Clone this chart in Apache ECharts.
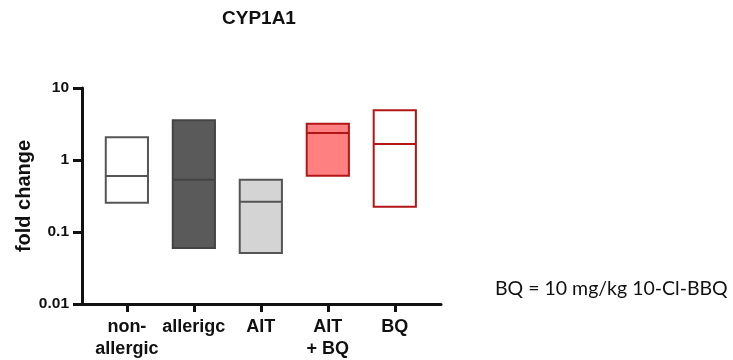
<!DOCTYPE html>
<html style="height: 100%">
<head>
    <meta charset="utf-8">
    <title>CYP1A1</title>
    <script type="text/javascript" src="https://cdn.jsdelivr.net/npm/echarts@6/dist/echarts.min.js"></script>
</head>
<body style="height: 100%; margin: 0; background: #fff">
    <div id="container" style="width: 733px; height: 360px"></div>
    <script type="text/javascript">
        // 分组名称（原图写作 allerigc）
        var groups = ['non-\nallergic', 'allerigc', 'AIT', 'AIT\n+ BQ', 'BQ'];
        // 每组的最小值、中位数、最大值 (fold change)
        var lowValues = [0.255, 0.06, 0.051, 0.605, 0.225];
        var medianValues = [0.60, 0.53, 0.264, 2.37, 1.67];
        var highValues = [2.07, 3.56, 0.53, 3.19, 4.9];
        var yTicks = [0.01, 0.1, 1, 10];

        // 颜色
        var fillColors = ['#ffffff', '#5a5a5a', '#d4d4d4', '#ff8080', '#ffffff'];
        var edgeColors = ['#555555', '#444444', '#555555', '#b31616', '#b31616'];

        var boxData = [];
        for (var i = 0; i < groups.length; i++) {
            boxData.push([i + 1, lowValues[i], medianValues[i], highValues[i]]);
        }
        var xPos = groups.map(function (g, i) { return i + 1; });

        var font = 'Liberation Sans, Arial, sans-serif';
        var myChart = echarts.init(document.getElementById('container'));
        var option = {
            animation: false,
            title: {
                text: 'CYP1A1',
                left: 217,
                top: 4,
                textStyle: { fontFamily: font, fontWeight: 'bold', fontSize: 19, color: '#111' }
            },
            graphic: [{
                type: 'text',
                left: 495,
                top: 279,
                style: { text: 'BQ = 10 mg/kg 10-Cl-BBQ', font: '19.5px Lato', fill: '#111' }
            }],
            grid: { left: 82, right: 292, top: 88, bottom: 56 },
            xAxis: {
                type: 'value',
                min: 0.33,
                max: 5.69,
                splitLine: { show: false },
                axisLine: { lineStyle: { color: '#111', width: 3 } },
                axisTick: { customValues: xPos, length: 8, lineStyle: { color: '#111', width: 3 } },
                axisLabel: {
                    customValues: xPos,
                    formatter: function (v) { return groups[Math.round(v) - 1]; },
                    fontFamily: font, fontWeight: 'bold', fontSize: 18,
                    color: '#111', lineHeight: 22, margin: 12
                }
            },
            yAxis: {
                type: 'log',
                logBase: 10,
                min: 0.01,
                max: 10,
                name: 'fold change',
                nameLocation: 'middle',
                nameGap: 48,
                nameTextStyle: { fontFamily: font, fontWeight: 'bold', fontSize: 20, color: '#111' },
                splitLine: { show: false },
                axisLine: { show: true, lineStyle: { color: '#111', width: 3 } },
                axisTick: { show: true, inside: false, length: 9, lineStyle: { color: '#111', width: 3 } },
                axisLabel: {
                    fontFamily: font, fontWeight: 'bold', fontSize: 15.5, color: '#111', margin: 13,
                    formatter: function (v) {
                        for (var k = 0; k < yTicks.length; k++) {
                            if (Math.abs(Math.log10(v) - Math.log10(yTicks[k])) < 1e-6) return String(yTicks[k]);
                        }
                        return '';
                    }
                }
            },
            series: [{
                type: 'custom',
                data: boxData,
                encode: { x: 0, y: [1, 2, 3] },
                renderItem: function (params, api) {
                    var idx = params.dataIndex;
                    var x = api.value(0);
                    var lo = api.coord([x, api.value(1)]);
                    var md = api.coord([x, api.value(2)]);
                    var hi = api.coord([x, api.value(3)]);
                    var w = api.size([0.63, 1])[0];
                    var left = lo[0] - w / 2;
                    return {
                        type: 'group',
                        children: [{
                            type: 'rect',
                            shape: { x: left, y: hi[1], width: w, height: lo[1] - hi[1] },
                            style: { fill: fillColors[idx], stroke: edgeColors[idx], lineWidth: 2 }
                        }, {
                            type: 'line',
                            shape: { x1: left, y1: md[1], x2: left + w, y2: md[1] },
                            style: { stroke: edgeColors[idx], lineWidth: 2 }
                        }]
                    };
                }
            }]
        };
        myChart.setOption(option);
    </script>
</body>
</html>
